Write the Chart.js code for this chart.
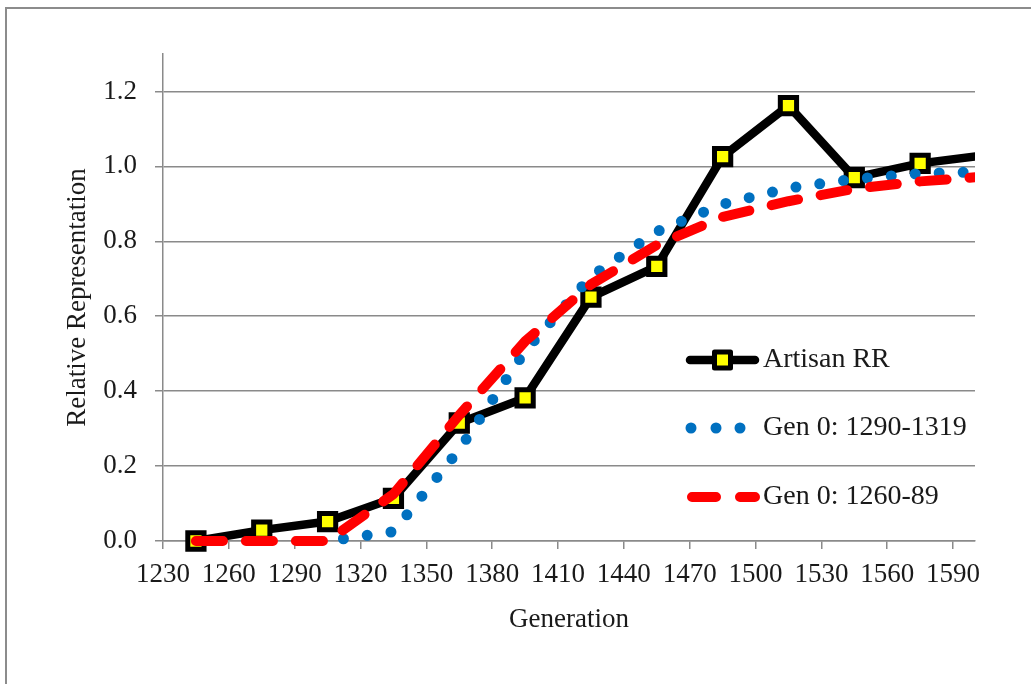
<!DOCTYPE html>
<html>
<head>
<meta charset="utf-8">
<script src="https://cdn.jsdelivr.net/npm/chart.js@4.4.1/dist/chart.umd.min.js"></script>
<style>
    html, body { margin: 0; padding: 0; background: #fff; overflow: hidden; }
    #wrap { width: 1031px; height: 684px; }
</style>
</head>
<body>
<div id="wrap"><canvas id="chart" width="1031" height="684"></canvas></div>
<script>
// values (30-year generations)
const years = [1245, 1275, 1305, 1335, 1365, 1395, 1425, 1455, 1485, 1515, 1545, 1575, 1605];
const artisanRR = [0, 0.029, 0.052, 0.114, 0.315, 0.382, 0.651, 0.733, 1.026, 1.162, 0.970, 1.008, 1.03];
const gen1290 = [null, null, 0, 0.025, 0.244, 0.507, 0.706, 0.826, 0.899, 0.942, 0.966, 0.981, 0.986];
const gen1260 = [0, 0, 0, 0.125, 0.336, 0.533, 0.685, 0.79, 0.865, 0.907, 0.94, 0.96, 0.973];
const seriesNames = ['Artisan RR', 'Gen 0: 1290-1319', 'Gen 0: 1260-89'];

const xMin = 1230, xMax = 1600, xStep = 30;
const yMin = 0, yMax = 1.3, yStep = 0.2;

const FONT = '"Liberation Serif", "Times New Roman", serif';
const GRID = '#8a8a8a';

Chart.defaults.font.family = FONT;
Chart.defaults.color = '#1a1a1a';

const toPoints = (vals) => years.map((x, i) => ({ x: x, y: vals[i] }));
const clipBox = { left: 30, top: 30, right: 0, bottom: 30 };

// outer frame + hand drawn legend sitting inside the plot
const frameAndLegend = {
    id: 'frameAndLegend',
    beforeDraw(chart) {
        const ctx = chart.ctx;
        ctx.save();
        ctx.fillStyle = '#fff';
        ctx.fillRect(0, 0, chart.width, chart.height);
        ctx.strokeStyle = '#8c8c8c';
        ctx.lineWidth = 2;
        ctx.strokeRect(6, 8, 1200, 900);
        ctx.restore();
    },
    afterDraw(chart) {
        const ctx = chart.ctx;
        const ds = chart.data.datasets;
        const rows = [360, 428, 497];
        const textX = 763;
        ctx.save();
        ctx.lineCap = 'round';

        // Artisan RR: thick black line with yellow square
        ctx.strokeStyle = ds[0].borderColor;
        ctx.lineWidth = ds[0].borderWidth;
        ctx.beginPath();
        ctx.moveTo(690, rows[0]);
        ctx.lineTo(755, rows[0]);
        ctx.stroke();
        ctx.fillStyle = ds[0].pointBackgroundColor;
        ctx.lineWidth = ds[0].pointBorderWidth;
        ctx.lineJoin = 'round';
        ctx.fillRect(722.5 - 8, rows[0] - 8, 16, 16);
        ctx.strokeRect(722.5 - 8, rows[0] - 8, 16, 16);

        // Gen 0: 1290-1319 dots
        ctx.fillStyle = ds[1].borderColor;
        [691, 716, 740].forEach((x) => {
            ctx.beginPath();
            ctx.arc(x, rows[1], 5.5, 0, Math.PI * 2);
            ctx.fill();
        });

        // Gen 0: 1260-89 dashes
        ctx.strokeStyle = ds[2].borderColor;
        ctx.lineWidth = ds[2].borderWidth;
        ctx.beginPath();
        ctx.moveTo(692, rows[2]);
        ctx.lineTo(716, rows[2]);
        ctx.moveTo(740, rows[2]);
        ctx.lineTo(755, rows[2]);
        ctx.stroke();

        ctx.font = '28px ' + FONT;
        ctx.fillStyle = '#1a1a1a';
        ctx.textBaseline = 'middle';
        ctx.textAlign = 'left';
        ds.forEach((d, i) => ctx.fillText(d.label, textX, rows[i]));
        ctx.restore();
    }
};

new Chart(document.getElementById('chart'), {
    type: 'line',
    data: {
        datasets: [
            {
                label: seriesNames[0],
                data: toPoints(artisanRR),
                borderColor: '#000000',
                borderWidth: 8.5,
                borderJoinStyle: 'round',
                pointStyle: 'rect',
                pointRadius: 11.5,
                pointBorderWidth: 5,
                pointBackgroundColor: '#ffff00',
                pointBorderColor: '#000000',
                tension: 0,
                clip: clipBox,
                order: 2
            },
            {
                label: seriesNames[1],
                data: toPoints(gen1290),
                borderColor: '#0070c0',
                borderWidth: 11,
                borderDash: [0, 24],
                borderDashOffset: 8,
                borderCapStyle: 'round',
                pointRadius: 0,
                tension: 0,
                clip: clipBox,
                order: 1
            },
            {
                label: seriesNames[2],
                data: toPoints(gen1260),
                borderColor: '#ff0000',
                borderWidth: 10,
                borderDash: [27, 23],
                borderCapStyle: 'round',
                borderJoinStyle: 'round',
                pointRadius: 0,
                tension: 0,
                clip: clipBox,
                order: 0
            }
        ]
    },
    options: {
        responsive: false,
        animation: false,
        devicePixelRatio: 1,
        layout: { padding: { left: 0, top: 54, right: 56, bottom: 0 } },
        plugins: {
            legend: { display: false },
            tooltip: { enabled: false }
        },
        scales: {
            x: {
                type: 'linear',
                min: xMin,
                max: xMax,
                afterFit: (scale) => { scale.height = 143; },
                ticks: {
                    stepSize: xStep,
                    includeBounds: false,
                    padding: 10,
                    maxRotation: 0,
                    autoSkip: false,
                    font: { size: 27 },
                    callback: (v) => String(v)
                },
                grid: { drawOnChartArea: false, drawTicks: true, tickLength: 8, color: GRID, lineWidth: 1.5 },
                border: { display: true, color: GRID, width: 1.5 },
                title: {
                    display: true,
                    text: 'Generation',
                    font: { size: 27 },
                    padding: { top: 0, bottom: 48 }
                }
            },
            y: {
                type: 'linear',
                min: yMin,
                max: yMax,
                afterFit: (scale) => { scale.width = 163; },
                ticks: {
                    stepSize: yStep,
                    includeBounds: false,
                    padding: 18,
                    font: { size: 27 },
                    callback: (v) => Number(v).toFixed(1)
                },
                grid: { drawTicks: true, tickLength: 8, color: GRID, lineWidth: 1.5 },
                border: { display: true, color: GRID, width: 1.5 },
                title: {
                    display: true,
                    text: 'Relative Representation',
                    font: { size: 27 },
                    padding: { top: 62, bottom: 0 }
                }
            }
        }
    },
    plugins: [frameAndLegend]
});
</script>
</body>
</html>
